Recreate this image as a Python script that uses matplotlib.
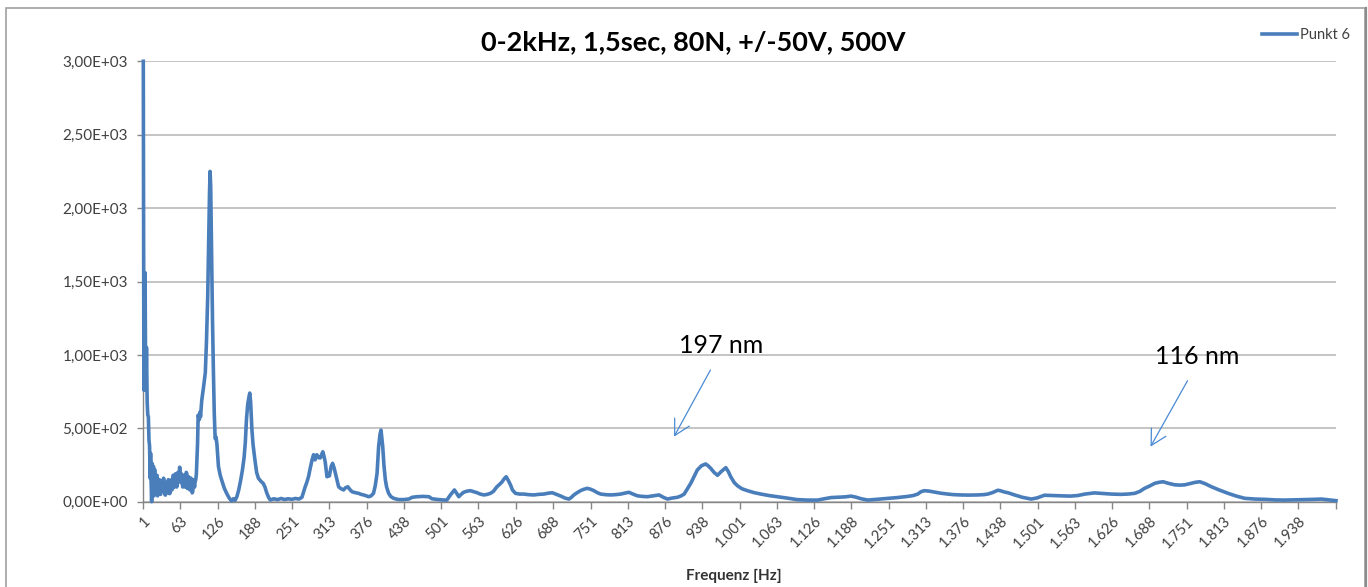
import matplotlib
matplotlib.use("Agg")
import matplotlib.pyplot as plt
from matplotlib.patches import Rectangle
from matplotlib.lines import Line2D
from matplotlib.ticker import FuncFormatter

plt.rcParams['font.family'] = ['Lato', 'DejaVu Sans']

# ---------------- data ----------------
title = "0-2kHz, 1,5sec, 80N, +/-50V, 500V"
series_name = "Punkt 6"
x_title = "Frequenz [Hz]"

# low-frequency part (0-90 Hz), read densely
freq_low = [
    1, 2, 3, 4, 4.7, 5.5, 6.3, 7.5, 8.5, 9.5, 10.5, 11.5, 12.5, 13.2, 14, 15,
    16, 17, 18, 19, 20, 21, 22, 23, 24, 25, 26, 27, 28, 29, 30, 31, 32, 33, 34, 35,
    36, 37, 38, 39, 40, 41, 42, 43, 44, 45, 46, 47, 48, 49, 50, 51, 52, 53, 54, 55,
    56, 57, 58, 59, 60, 61, 62, 63, 64, 65, 66, 67, 68, 69, 70, 71, 72, 73, 74, 75,
    76, 77, 78, 79, 80, 81, 82, 83, 84, 85, 86, 87, 88, 89, 90,
]
amp_low = [
    3000, 760, 1100, 1560, 1000, 760, 1050, 680, 590, 580, 420, 380, 160, 330, 150, 0,
    260, 60, 240, 40, 220, 90, 60, 170, 180, 40, 70, 120, 150, 60, 50, 130, 140, 70, 80, 160,
    120, 50, 45, 110, 130, 60, 70, 150, 110, 55, 60, 140, 150, 80, 90, 180, 170, 100, 110, 190,
    160, 100, 120, 200, 180, 140, 235, 140, 130, 190, 170, 100, 110, 180, 160, 100, 120, 200, 190, 90,
    100, 170, 150, 80, 90, 160, 130, 60, 70, 150, 120, 100, 140, 150, 190,
]

# rest of the spectrum (90-2000 Hz)
freq_high = [
    92, 93, 95, 96, 97, 99, 102, 105, 107, 109, 110.5, 112, 113,
    114, 115.5, 117, 118.5, 120, 121.5, 123, 124.5, 127, 130, 133, 137, 141, 145, 149, 152, 155, 158, 161, 164,
    167, 170, 172, 174, 176, 178, 179.5, 181, 183, 185, 188, 191, 194, 198, 202, 205, 208, 211, 214, 220,
    226, 232, 238, 244, 250, 256, 262, 267, 270, 272.5, 275, 278, 281, 284, 286.5, 289, 292, 295, 297.7, 300,
    302, 304, 306, 309, 311, 313, 316, 318.4, 321, 323, 326, 328.5, 332, 336.8, 340, 344, 347, 351, 356, 362,
    366, 370.4, 375, 378.8, 383, 387, 390, 393, 395.6, 398, 399.6, 401, 402.5, 404.5, 406.9, 409, 412.4, 416, 420.8, 428,
    436, 446, 452, 460, 470, 480, 485, 495, 503, 510, 516, 522.7, 526, 530, 534, 538, 544, 549.6, 555, 560.8,
    566, 572, 578, 583, 588, 594, 599, 602.8, 606, 609.5, 613, 616.8, 620, 625, 632, 639, 647, 656, 664, 672.7,
    680, 686.8, 694, 700.7, 708, 714.7, 719, 723, 728, 734, 740, 745.6, 751, 756.7, 762, 768, 776, 784.7, 793, 801.5,
    808, 815.4, 822, 829.6, 838, 846.3, 856, 866, 873, 880, 888, 896.7, 903, 908, 913, 919, 925, 930, 937, 944,
    948, 952.6, 958, 963.9, 970, 977.8, 982, 986, 992, 997.5, 1005, 1014, 1025, 1036.6, 1050, 1064.6, 1080, 1098, 1115, 1131.8,
    1143, 1154, 1165, 1178, 1187.7, 1195, 1205, 1215.8, 1230, 1249, 1265, 1283, 1292, 1299.7, 1305, 1310.8, 1319, 1327.6, 1338, 1350,
    1360, 1372, 1385, 1400, 1410, 1417, 1425, 1434, 1438, 1445, 1451, 1462, 1475, 1490, 1500, 1512, 1525, 1540, 1555, 1568,
    1580, 1596, 1610, 1624, 1640, 1652, 1663.5, 1672, 1680, 1689, 1697, 1704, 1711, 1720, 1730.6, 1740, 1747.5, 1755, 1765, 1772.7,
    1782, 1792, 1805, 1820, 1834, 1848, 1865, 1882, 1900, 1915, 1935, 1955, 1977, 1990, 2001,
]
amp_high = [
    400, 590, 560, 610, 580, 690, 780, 880, 1100, 1400, 1750, 2100, 2250,
    2150, 1700, 1250, 900, 600, 430, 440, 390, 240, 180, 140, 90, 55, 25, 5, 20, 10, 35, 80, 140,
    210, 300, 400, 560, 660, 710, 740, 680, 500, 390, 290, 200, 160, 140, 125, 100, 60, 30, 12, 20,
    14, 22, 15, 20, 16, 22, 18, 30, 70, 102, 130, 170, 230, 285, 320, 285, 320, 300, 298, 320,
    340, 310, 272, 170, 190, 175, 240, 261, 230, 195, 140, 102, 90, 80, 95, 102, 85, 68, 62, 57,
    50, 46, 40, 34, 40, 57, 110, 193, 375, 460, 488, 430, 375, 250, 148, 100, 57, 35, 23, 15,
    14, 18, 30, 34, 36, 34, 20, 15, 12, 11, 46, 80, 60, 34, 50, 64, 72, 75, 68, 61,
    52, 46, 50, 57, 70, 102, 120, 136, 155, 170, 145, 114, 80, 57, 52, 52, 48, 46, 50, 52,
    58, 61, 50, 39, 25, 18, 30, 46, 60, 75, 85, 91, 85, 75, 62, 52, 48, 46, 48, 52,
    58, 64, 52, 40, 36, 34, 40, 46, 30, 18, 25, 30, 40, 52, 85, 125, 175, 216, 245, 257,
    245, 227, 200, 180, 205, 232, 205, 170, 130, 108, 88, 75, 62, 52, 42, 34, 25, 14, 11, 11,
    20, 28, 30, 33, 38, 32, 20, 11, 16, 23, 28, 36, 42, 52, 68, 75, 72, 66, 58, 52,
    48, 46, 45, 46, 48, 52, 62, 78, 75, 66, 61, 46, 30, 18, 26, 44, 42, 40, 38, 42,
    52, 60, 56, 52, 50, 52, 57, 70, 91, 108, 125, 132, 136, 125, 115, 113, 115, 122, 132, 136,
    122, 102, 80, 57, 38, 23, 18, 16, 12, 11, 13, 15, 18, 12, 7,
]

tick_labels = ["1", "63", "126", "188", "251", "313", "376", "438", "501", "563", "626", "688",
               "751", "813", "876", "938", "1.001", "1.063", "1.126", "1.188", "1.251", "1.313",
               "1.376", "1.438", "1.501", "1.563", "1.626", "1.688", "1.751", "1.813", "1.876", "1.938"]
x_end = 2001
y_ticks = [0, 500, 1000, 1500, 2000, 2500, 3000]

# label, text x, text y, arrow head x, head y, arrow tail x, tail y (data units)
annotations = [("197 nm", 970, 1013, 891, 443, 952, 897),
               ("116 nm", 1769, 938, 1690, 375, 1752, 824)]

# ---------------- styling ----------------
W, H = 1368, 587
line_color = "#4A7EBB"
arrow_color = "#4A8AD4"
grid_color = "#BFBFBF"
axis_color = "#868686"
text_color = "#404040"

fig = plt.figure(figsize=(W / 100, H / 100), dpi=100)
fig.patch.set_facecolor("white")

left, right, bottom, top = 143.3, 1336.0, 501.7, 61.3
ax = fig.add_axes([left / W, 1 - bottom / H, (right - left) / W, (bottom - top) / H])

ax.plot(freq_low + freq_high, amp_low + amp_high, color=line_color, lw=2.6,
        solid_joinstyle="round", label=series_name, clip_on=False, zorder=3)

ax.set_xlim(1, x_end)
ax.set_ylim(0, 3000)

ax.set_yticks(y_ticks)
ax.yaxis.set_major_formatter(FuncFormatter(lambda v, p: ("%.2E" % v).replace(".", ",")))
ax.grid(axis="y", color=grid_color, lw=1.3)
ax.set_axisbelow(True)

tick_pos = [int(t.replace(".", "")) for t in tick_labels] + [x_end]
ax.set_xticks(tick_pos)
ax.set_xticklabels(tick_labels + [""])

for s in ["top", "right"]:
    ax.spines[s].set_visible(False)
for s in ["left", "bottom"]:
    ax.spines[s].set_color(axis_color)
    ax.spines[s].set_linewidth(1.0)

ax.tick_params(axis="y", direction="out", length=4, width=1, color=axis_color,
               labelsize=11, labelcolor=text_color, pad=7)
ax.tick_params(axis="x", direction="out", length=5, width=1, color=axis_color,
               labelsize=10.5, labelcolor=text_color, pad=4)
for lab in ax.get_xticklabels():
    lab.set_rotation(45)
    lab.set_ha("right")
    lab.set_va("top")
    lab.set_rotation_mode("anchor")

for txt, tx, ty, hx, hy, sx, sy in annotations:
    ax.annotate("", xy=(hx, hy), xytext=(sx, sy),
                arrowprops=dict(arrowstyle="->,head_length=0.55,head_width=0.3",
                                color=arrow_color, lw=0.9, mutation_scale=20,
                                shrinkA=0, shrinkB=0))
    ax.text(tx, ty, txt, ha="center", va="baseline", fontsize=18, color="black")

fig.text(693 / W, 1 - 42 / H, title, ha="center", va="center", fontsize=19.5,
         weight="bold", color="black")
fig.text(734 / W, 1 - 576 / H, x_title, ha="center", va="center", fontsize=11,
         weight="bold", color="#333333")

fig.legend(loc="center left", bbox_to_anchor=(1262 / W, 1 - 35 / H), bbox_transform=fig.transFigure,
           frameon=False, fontsize=10.5, handlelength=2.4, handletextpad=0.2,
           borderpad=0, borderaxespad=0, labelcolor=text_color)

fig.add_artist(Rectangle((5.5 / W, -0.05), (1365 - 5.5) / W, 1.05 - 7.5 / H,
                         transform=fig.transFigure, fill=False, ec="#A0A0A0", lw=1.2,
                         clip_on=False))
fig.add_artist(Line2D([1366 / W, 1366 / W], [0, 1 - 8 / H], transform=fig.transFigure,
                      color="#8C8C8C", lw=1.6))

fig.savefig("out.png", dpi=100)
